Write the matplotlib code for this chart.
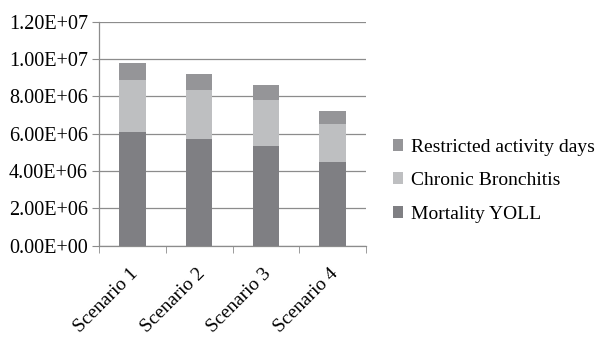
import numpy as np
import matplotlib
matplotlib.use('Agg')
from matplotlib import pyplot as plt
from matplotlib.ticker import FuncFormatter
from matplotlib.transforms import ScaledTranslation

scenarios = ["Scenario 1", "Scenario 2", "Scenario 3", "Scenario 4"]
mortality = [6.08e6, 5.73e6, 5.36e6, 4.47e6]
bronchitis = [2.80e6, 2.62e6, 2.43e6, 2.04e6]
restricted = [0.92e6, 0.87e6, 0.80e6, 0.68e6]

plt.rcParams['font.family'] = ['Liberation Serif', 'DejaVu Serif']

fig = plt.figure(figsize=(6, 3.44), dpi=100)
ax = fig.add_axes([0.165, 0.286, 0.445, 0.651])

x = np.arange(len(scenarios))
mortality = np.array(mortality)
bronchitis = np.array(bronchitis)
restricted = np.array(restricted)

b1 = ax.bar(x, mortality, 0.4, color='#7f7f83', label='Mortality YOLL', zorder=3)
b2 = ax.bar(x, bronchitis, 0.4, bottom=mortality, color='#bebfc1',
            label='Chronic Bronchitis', zorder=3)
b3 = ax.bar(x, restricted, 0.4, bottom=mortality + bronchitis, color='#959598',
            label='Restricted activity days', zorder=3)

ax.set_xlim(-0.5, len(scenarios) - 0.5)
ax.set_ylim(0, 1.2e7)
ax.set_yticks(np.arange(0, 1.21e7, 2e6))
ax.yaxis.set_major_formatter(FuncFormatter(lambda v, p: "%.2E" % v))
ax.yaxis.grid(True, color='#8c8c8c', linewidth=0.9, zorder=0)

ax.set_xticks(x)
ax.set_xticklabels(scenarios, rotation=45, ha='right', rotation_mode='anchor')
ax.set_xticks(np.arange(-0.5, len(scenarios), 1), minor=True)
ax.tick_params(axis='x', which='major', length=0, pad=14, labelsize=14)
ax.tick_params(axis='x', which='minor', length=5, color='#8c8c8c')
ax.tick_params(axis='y', length=5, color='#8c8c8c', labelsize=14.5, pad=3)

# nudge the rotated labels a little to the left
shift = ScaledTranslation(-3 / 100, 0, fig.dpi_scale_trans)
for lab in ax.get_xticklabels():
    lab.set_transform(lab.get_transform() + shift)

for s in ['top', 'right']:
    ax.spines[s].set_visible(False)
for s in ['left', 'bottom']:
    ax.spines[s].set_color('#8c8c8c')
    ax.spines[s].set_linewidth(0.9)

handles = [b3, b2, b1]
fig.legend(handles, [h.get_label() for h in handles], loc='center left',
           bbox_to_anchor=(0.638, 0.475), frameon=False, fontsize=14,
           handlelength=0.55, handleheight=0.55, handletextpad=0.4,
           labelspacing=0.85, borderpad=0)

plt.savefig("out.png", dpi=100)
